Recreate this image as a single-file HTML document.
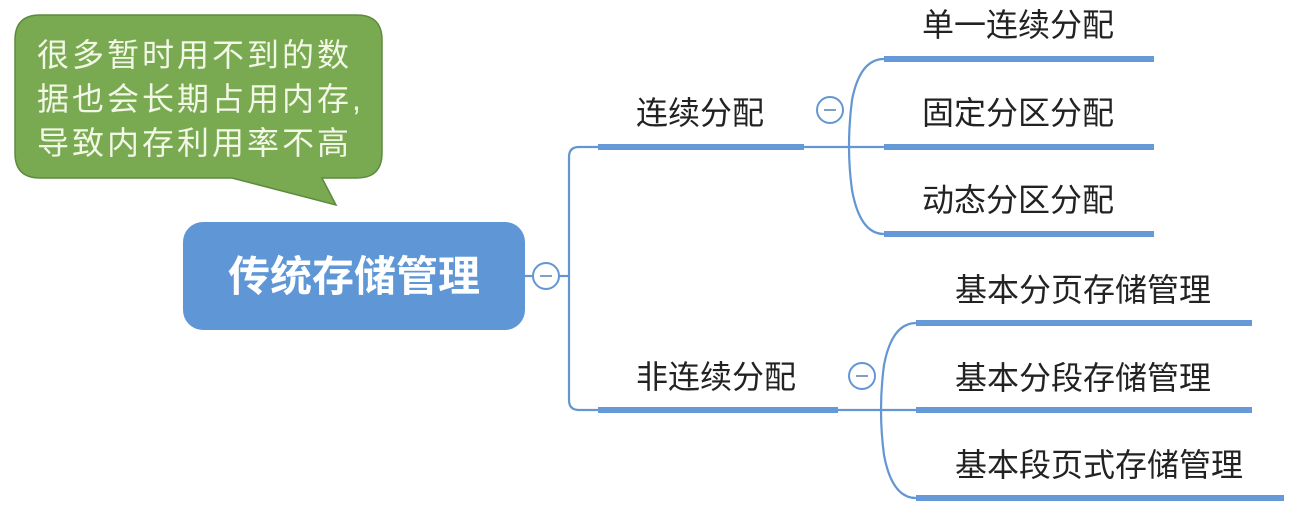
<!DOCTYPE html>
<html><head><meta charset="utf-8"><style>
html,body{margin:0;padding:0;background:#fff;}
body{width:1311px;height:517px;overflow:hidden;position:relative;font-family:"Liberation Sans","Noto Sans CJK SC",sans-serif;}
.t{position:absolute;font-size:32px;color:#222;white-space:nowrap;line-height:1;}
</style></head><body>
<svg width="1311" height="517" style="position:absolute;left:0;top:0">
  <path d="M40 15 H357 Q382 15 382 40 V153 Q382 178 357 178 H322 L336 205 L232 178 H40 Q15 178 15 153 V40 Q15 15 40 15 Z" fill="#79aa51" stroke="#5e8a3e" stroke-width="1.5"/>
  <rect x="183" y="222" width="342" height="108" rx="20" fill="#5e96d6"/>
  <g fill="none" stroke="#6396d2" stroke-width="2.2">
    <line x1="525" y1="276" x2="533" y2="276"/>
    <line x1="559" y1="276" x2="569" y2="276"/>
    <path d="M598 147 H579 Q569 147 569 157 V400 Q569 410 579 410 H598"/>
    <line x1="804" y1="147" x2="884" y2="147"/>
    <path d="M884 59 Q860 59 852 100 Q846 147 852 190 Q860 234 884 234"/>
    <line x1="838" y1="410" x2="916" y2="410"/>
    <path d="M916 323 Q892 323 884 365 Q878 410 884 455 Q892 498 916 498"/>
  </g>
  <g fill="#fff" stroke="#6396d2" stroke-width="2">
    <circle cx="546" cy="276" r="13"/>
    <circle cx="830" cy="110" r="13"/>
    <circle cx="862" cy="376" r="13"/>
  </g>
  <g stroke="#7f9fc4" stroke-width="2">
    <line x1="540" y1="276" x2="552" y2="276"/>
    <line x1="824" y1="110" x2="836" y2="110"/>
    <line x1="856" y1="376" x2="868" y2="376"/>
  </g>
  <g fill="#6699d8">
    <rect x="598" y="144" width="206" height="6"/>
    <rect x="884" y="56" width="270" height="6"/>
    <rect x="884" y="144" width="270" height="6"/>
    <rect x="884" y="231" width="270" height="6"/>
    <rect x="598" y="407" width="240" height="6"/>
    <rect x="916" y="320" width="336" height="6"/>
    <rect x="916" y="407" width="336" height="6"/>
    <rect x="916" y="495" width="368" height="6"/>
  </g>
</svg>
<div class="t" style="left:37px;top:33px;font-size:32px;color:#f2f7e6;line-height:44px;white-space:normal;width:360px;letter-spacing:3px">很多暂时用不到的数<br>据也会长期占用内存,<br>导致内存利用率不高</div>
<div class="t" style="left:183px;top:256px;width:342px;text-align:center;font-size:42px;font-weight:bold;color:#fff">传统存储管理</div>
<div class="t" style="left:636px;top:97px">连续分配</div>
<div class="t" style="left:636px;top:361px">非连续分配</div>
<div class="t" style="left:922px;top:9px">单一连续分配</div>
<div class="t" style="left:922px;top:97px">固定分区分配</div>
<div class="t" style="left:922px;top:184px">动态分区分配</div>
<div class="t" style="left:955px;top:274px">基本分页存储管理</div>
<div class="t" style="left:955px;top:362px">基本分段存储管理</div>
<div class="t" style="left:955px;top:449px">基本段页式存储管理</div>
</body></html>
